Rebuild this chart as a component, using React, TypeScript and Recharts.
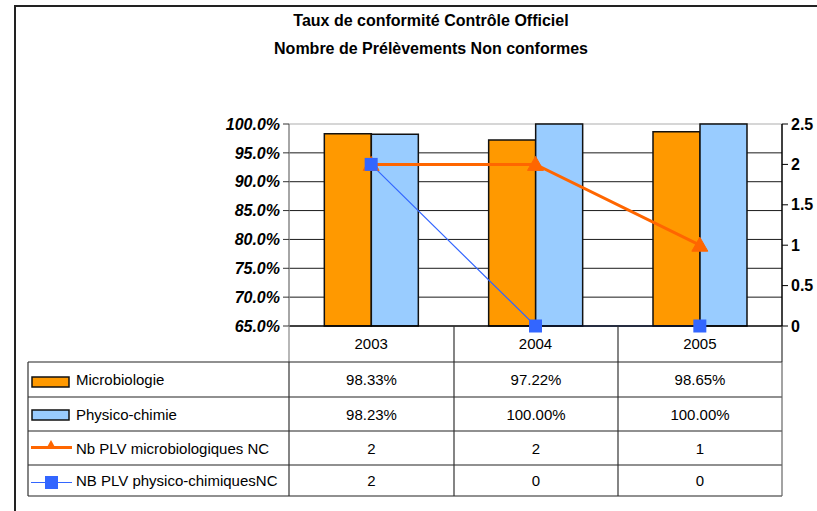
import React from 'react';
import { ComposedChart, Bar, Line, XAxis, YAxis, CartesianGrid } from 'recharts';

const categories = ['2003', '2004', '2005'];
const microRate = [0.9833, 0.9722, 0.9865];
const physicoRate = [0.9823, 1.0, 1.0];
const microNC = [2, 2, 1];
const physicoNC = [2, 0, 0];
const leftTicks = [0.65, 0.7, 0.75, 0.8, 0.85, 0.9, 0.95, 1.0];
const rightTicks = [0, 0.5, 1, 1.5, 2, 2.5];
const seriesNames = ['Microbiologie', 'Physico-chimie', 'Nb PLV microbiologiques NC', 'NB PLV physico-chimiquesNC'];
const titleLines = ['Taux de conformité Contrôle Officiel', 'Nombre de Prélèvements Non conformes'];

const ORANGE = '#FF9900';
const LIGHTBLUE = '#99CCFF';
const LINE_ORANGE = '#FF6600';
const LINE_BLUE = '#3366FF';
const FONT = '"Liberation Sans", Arial, sans-serif';

const data = categories.map((c, i) => ({
  cat: c,
  micro: microRate[i],
  physico: physicoRate[i],
  nbMicro: microNC[i],
  nbPhysico: physicoNC[i],
}));

const pct = (v: number) => (v * 100).toFixed(2) + '%';
const tableRows: string[][] = [
  microRate.map(pct),
  physicoRate.map(pct),
  microNC.map(String),
  physicoNC.map(String),
];

const Triangle = (props: any) => {
  const { cx, cy, index } = props;
  if (cx == null || cy == null) return <g key={`t${index}`} />;
  return (
    <path
      key={`t${index}`}
      d={`M${cx},${cy - 8} L${cx + 8},${cy + 6} L${cx - 8},${cy + 6} Z`}
      fill={LINE_ORANGE}
      stroke={LINE_ORANGE}
    />
  );
};

const Square = (props: any) => {
  const { cx, cy, index } = props;
  if (cx == null || cy == null) return <g key={`s${index}`} />;
  return <rect key={`s${index}`} x={cx - 6.5} y={cy - 6.5} width={13} height={13} fill={LINE_BLUE} />;
};

const gridLine = (p: any) => {
  const top = Math.abs(p.y1 - 124) < 2;
  const bottom = Math.abs(p.y1 - 326) < 2;
  if (bottom) return <g key={p.key ?? `g${p.index}`} />;
  return (
    <line
      key={p.key ?? `g${p.index}`}
      x1={p.x1}
      x2={p.x2}
      y1={p.y1}
      y2={p.y2}
      stroke={top ? '#c8c8c8' : '#1a1a1a'}
      strokeWidth={top ? 1.5 : 1}
    />
  );
};

const colX = [28, 289, 454, 618, 782];
const rowY = [362, 397, 431, 465, 496];

export default function App() {
  return (
    <div style={{ position: 'absolute', left: 0, top: 0, width: 817, height: 511, background: '#fff', fontFamily: FONT }}>
      <div style={{ position: 'absolute', left: 14, top: 5, width: 803, height: 506, borderLeft: '2px solid #222', borderTop: '2px solid #222' }} />
      <ComposedChart
        width={817}
        height={511}
        data={data}
        margin={{ top: 124, left: 219, right: 0, bottom: 149 }}
        barCategoryGap="21.5%"
        barGap={0}
        style={{ position: 'absolute', left: 0, top: 0 }}
      >
        <CartesianGrid yAxisId="left" vertical={false} horizontal={gridLine} />
        <XAxis
          dataKey="cat"
          height={36}
          tickSize={0}
          tickMargin={12}
          axisLine={{ stroke: '#000', strokeWidth: 1.5 }}
          tick={{ fill: '#000', fontSize: 15, fontFamily: FONT }}
        />
        <YAxis
          yAxisId="left"
          width={70}
          domain={[0.65, 1]}
          ticks={leftTicks}
          tickFormatter={(v: number) => (v * 100).toFixed(1) + '%'}
          tickSize={6}
          tickMargin={3}
          axisLine={{ stroke: '#888', strokeWidth: 1.5 }}
          tickLine={{ stroke: '#333' }}
          tick={{ fill: '#000', fontSize: 16, fontWeight: 'bold', fontStyle: 'italic', fontFamily: FONT }}
          interval={0}
        />
        <YAxis
          yAxisId="right"
          orientation="right"
          width={35}
          domain={[0, 2.5]}
          ticks={rightTicks}
          tickFormatter={(v: number) => String(v)}
          tickSize={6}
          tickMargin={3}
          axisLine={{ stroke: '#000', strokeWidth: 1.5 }}
          tickLine={{ stroke: '#000' }}
          tick={{ fill: '#000', fontSize: 16, fontWeight: 'bold', fontFamily: FONT }}
          interval={0}
        />
        <Bar yAxisId="left" dataKey="micro" name={seriesNames[0]} fill={ORANGE} stroke="#111" strokeWidth={1.5} isAnimationActive={false} />
        <Bar yAxisId="left" dataKey="physico" name={seriesNames[1]} fill={LIGHTBLUE} stroke="#111" strokeWidth={1.5} isAnimationActive={false} />
        <Line yAxisId="right" dataKey="nbMicro" name={seriesNames[2]} stroke={LINE_ORANGE} strokeWidth={3} dot={Triangle} activeDot={false} isAnimationActive={false} />
        <Line yAxisId="right" dataKey="nbPhysico" name={seriesNames[3]} stroke={LINE_BLUE} strokeWidth={1.2} dot={Square} activeDot={false} isAnimationActive={false} />
      </ComposedChart>
      <svg width={817} height={511} style={{ position: 'absolute', left: 0, top: 0, pointerEvents: 'none' }}>
        {titleLines.map((t, i) => (
          <text key={t} x={431} y={26 + i * 28} textAnchor="middle" fontFamily={FONT} fontSize={16} fontWeight="bold" fill="#000">
            {t}
          </text>
        ))}
        {/* header row verticals */}
        {colX.slice(1).map((x, i) => (
          <line key={`hv${i}`} x1={x} x2={x} y1={326} y2={362} stroke={i === 0 ? '#888' : '#333'} strokeWidth={1.2} />
        ))}
        {/* table rows */}
        {rowY.map((y, i) => (
          <line key={`h${i}`} x1={colX[0]} x2={colX[4]} y1={y} y2={y} stroke="#222" strokeWidth={1.2} />
        ))}
        {colX.map((x, i) => (
          <line key={`v${i}`} x1={x} x2={x} y1={rowY[0]} y2={rowY[4]} stroke={i === 4 ? '#666' : '#333'} strokeWidth={1.2} />
        ))}
        {/* legend swatches */}
        <rect x={32} y={377} width={37} height={10} fill={ORANGE} stroke="#111" strokeWidth={1.5} />
        <rect x={32} y={410} width={37} height={10} fill={LIGHTBLUE} stroke="#111" strokeWidth={1.5} />
        <line x1={31} x2={72} y1={447.5} y2={447.5} stroke={LINE_ORANGE} strokeWidth={3} />
        <path d="M51,440 L56,449 L46,449 Z" fill={LINE_ORANGE} />
        <line x1={31} x2={72} y1={482.5} y2={482.5} stroke={LINE_BLUE} strokeWidth={1.2} />
        <rect x={45} y={476} width={13} height={13} fill={LINE_BLUE} />
        {seriesNames.map((n, r) => (
          <text key={n} x={76} y={(rowY[r] + rowY[r + 1]) / 2 + 5.5} fontFamily={FONT} fontSize={15} fill="#000">
            {n}
          </text>
        ))}
        {tableRows.map((row, r) =>
          row.map((v, c) => (
            <text
              key={`c${r}-${c}`}
              x={(colX[c + 1] + colX[c + 2]) / 2}
              y={(rowY[r] + rowY[r + 1]) / 2 + 5.5}
              textAnchor="middle"
              fontFamily={FONT}
              fontSize={15}
              fill="#000"
            >
              {v}
            </text>
          ))
        )}
      </svg>
    </div>
  );
}
